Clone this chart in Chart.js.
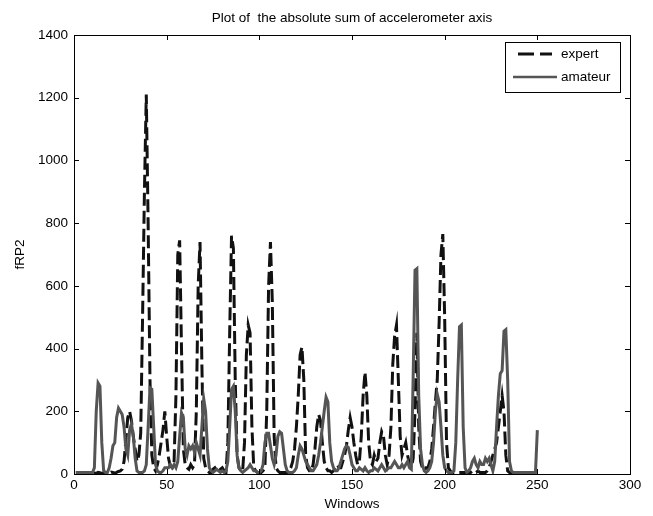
<!DOCTYPE html>
<html>
<head>
<meta charset="utf-8">
<script src="https://cdn.jsdelivr.net/npm/chart.js@4.4.0/dist/chart.umd.min.js"></script>
<style>
  html, body { margin: 0; padding: 0; background: #fff; }
  #wrap { width: 653px; height: 516px; }
</style>
</head>
<body>
<div id="wrap"><canvas id="accel" width="653" height="516"></canvas></div>
<script>
// values, one per window (window = index + 1)
var expertValues = [
  5,5,5,5,5,5,5,5,5,5,
  3,2,5,4,2,3,5,2,3,6,
  5,3,5,8,10,15,40,110,180,200,
  170,120,80,40,60,130,500,900,1210,800,
  300,60,20,10,30,60,100,140,200,120,
  50,25,20,40,250,700,745,400,80,30,
  20,15,30,20,30,200,600,740,350,50,
  20,10,5,5,15,20,10,5,15,20,
  10,5,100,450,760,720,300,60,20,10,
  10,100,380,475,450,150,20,10,5,5,
  5,10,20,200,600,740,550,120,20,10,
  5,5,5,5,5,10,20,40,80,150,
  250,380,405,300,60,20,10,10,30,80,
  150,190,170,100,40,20,10,10,5,10,
  20,30,20,20,40,60,90,140,180,150,
  100,60,30,40,120,250,325,250,100,40,
  30,60,40,50,100,135,120,60,30,60,
  150,350,440,475,300,120,60,80,100,60,
  30,20,50,200,450,150,40,20,10,20,
  20,40,80,150,230,300,480,700,765,500,
  100,20,10,5,5,5,5,5,5,5,
  5,5,5,5,10,5,5,10,5,5,
  5,5,10,20,40,60,80,100,150,200,
  250,200,60,10,5,5,5,5,5,5
];

var amateurValues = [
  5,5,5,5,5,5,5,5,5,5,
  20,200,290,280,100,10,5,5,20,50,
  90,100,180,210,200,190,150,80,60,140,
  160,120,50,10,5,5,5,10,30,150,
  275,270,150,30,10,5,5,10,20,20,
  20,30,20,30,20,40,120,195,180,80,
  60,90,80,90,70,100,80,60,150,240,
  200,80,20,10,5,10,15,10,5,10,
  5,10,40,150,270,280,200,60,20,10,
  5,10,15,20,30,20,10,10,5,5,
  10,30,100,130,130,90,50,30,60,120,
  135,130,80,30,10,5,5,5,10,20,
  60,90,80,60,40,30,20,10,10,20,
  30,60,100,150,200,245,230,100,40,20,
  10,10,20,40,60,80,90,85,60,30,
  20,10,10,20,15,10,20,10,5,10,
  10,20,15,10,20,30,20,10,15,20,
  20,30,40,30,20,20,30,20,30,40,
  20,15,310,650,655,250,80,30,10,5,
  10,20,40,100,200,255,230,150,60,20,
  10,5,5,5,10,100,300,470,475,150,
  20,5,10,20,40,50,30,20,40,30,
  30,50,40,50,30,10,40,150,250,320,
  330,455,460,300,40,10,5,5,5,5,
  5,5,5,5,5,5,5,5,5,140
];

var seriesNames = ['expert', 'amateur'];
var xTicks = [0, 50, 100, 150, 200, 250, 300];
var yTicks = [0, 200, 400, 600, 800, 1000, 1200, 1400];

var FONT = '"Liberation Sans", Arial, sans-serif';

function toPoints(arr) {
  return arr.map(function (v, i) { return { x: i + 1, y: v }; });
}

// matlab style box, inward ticks, title and legend
var matlabAxes = {
  id: 'matlabAxes',
  afterDraw: function (chart) {
    var ctx = chart.ctx;
    var a = chart.chartArea;
    var xs = chart.scales.x, ys = chart.scales.y;
    var tl = 5;
    ctx.save();
    ctx.strokeStyle = '#000';
    ctx.lineWidth = 1;
    ctx.setLineDash([]);
    ctx.strokeRect(a.left + 0.5, a.top + 0.5, a.right - a.left, a.bottom - a.top);
    ctx.beginPath();
    xTicks.forEach(function (t) {
      var px = Math.round(xs.getPixelForValue(t)) + 0.5;
      ctx.moveTo(px, a.bottom); ctx.lineTo(px, a.bottom - tl);
      ctx.moveTo(px, a.top); ctx.lineTo(px, a.top + tl);
    });
    yTicks.forEach(function (t) {
      var py = Math.round(ys.getPixelForValue(t)) + 0.5;
      ctx.moveTo(a.left, py); ctx.lineTo(a.left + tl, py);
      ctx.moveTo(a.right, py); ctx.lineTo(a.right - tl, py);
    });
    ctx.stroke();

    // title
    ctx.fillStyle = '#000';
    ctx.font = '13.5px ' + FONT;
    ctx.textAlign = 'center';
    ctx.textBaseline = 'middle';
    ctx.fillText('Plot of  the absolute sum of accelerometer axis', (a.left + a.right) / 2, 18);

    // legend
    var bx = 505, by = 42, bw = 115, bh = 50;
    ctx.fillStyle = '#fff';
    ctx.fillRect(bx, by, bw, bh);
    ctx.strokeRect(bx + 0.5, by + 0.5, bw, bh);
    var rows = [54, 77];
    chart.data.datasets.forEach(function (ds, i) {
      ctx.beginPath();
      ctx.strokeStyle = ds.borderColor;
      ctx.lineWidth = 3;
      if (ds.borderDash) {
        ctx.setLineDash([16, 6]);
        ctx.moveTo(518, rows[i]); ctx.lineTo(552, rows[i]);
      } else {
        ctx.setLineDash([]);
        ctx.lineWidth = 2.5;
        ctx.moveTo(513, rows[i]); ctx.lineTo(557, rows[i]);
      }
      ctx.stroke();
      ctx.setLineDash([]);
      ctx.fillStyle = '#000';
      ctx.textAlign = 'left';
      ctx.fillText(ds.label, 561, rows[i]);
    });
    ctx.restore();
  }
};

function plainLabel(v) { return String(v); }

var ctx = document.getElementById('accel').getContext('2d');
var myChart = new Chart(ctx, {
  type: 'line',
  data: {
    datasets: [
      {
        label: seriesNames[0],
        data: toPoints(expertValues),
        borderColor: '#111111',
        borderWidth: 3,
        borderDash: [13, 5],
        pointRadius: 0,
        tension: 0,
        fill: false,
        order: 1
      },
      {
        label: seriesNames[1],
        data: toPoints(amateurValues),
        borderColor: '#555555',
        borderWidth: 3,
        pointRadius: 0,
        tension: 0,
        fill: false,
        order: 0
      }
    ]
  },
  options: {
    responsive: false,
    animation: false,
    layout: { padding: { left: 0, right: 23, top: 35, bottom: 0 } },
    plugins: {
      legend: { display: false },
      title: { display: false },
      tooltip: { enabled: false }
    },
    scales: {
      x: {
        type: 'linear',
        min: 0,
        max: 300,
        afterFit: function (s) { s.height = 42; },
        afterBuildTicks: function (s) { s.ticks = xTicks.map(function (v) { return { value: v }; }); },
        grid: { display: false, drawTicks: false },
        border: { display: false },
        ticks: { padding: 3, color: '#000', font: { family: FONT, size: 13.5 }, maxRotation: 0, callback: plainLabel },
        title: { display: true, text: 'Windows', color: '#000', font: { family: FONT, size: 13.5 }, padding: { top: 0, bottom: 4 } }
      },
      y: {
        min: 0,
        max: 1400,
        afterFit: function (s) { s.width = 74; },
        afterBuildTicks: function (s) { s.ticks = yTicks.map(function (v) { return { value: v }; }); },
        grid: { display: false, drawTicks: false },
        border: { display: false },
        ticks: { padding: 6, color: '#000', font: { family: FONT, size: 13.5 }, callback: plainLabel },
        title: { display: true, text: 'fRP2', color: '#000', font: { family: FONT, size: 13.5 }, padding: { top: 12, bottom: 0 } }
      }
    }
  },
  plugins: [matlabAxes]
});
</script>
</body>
</html>
